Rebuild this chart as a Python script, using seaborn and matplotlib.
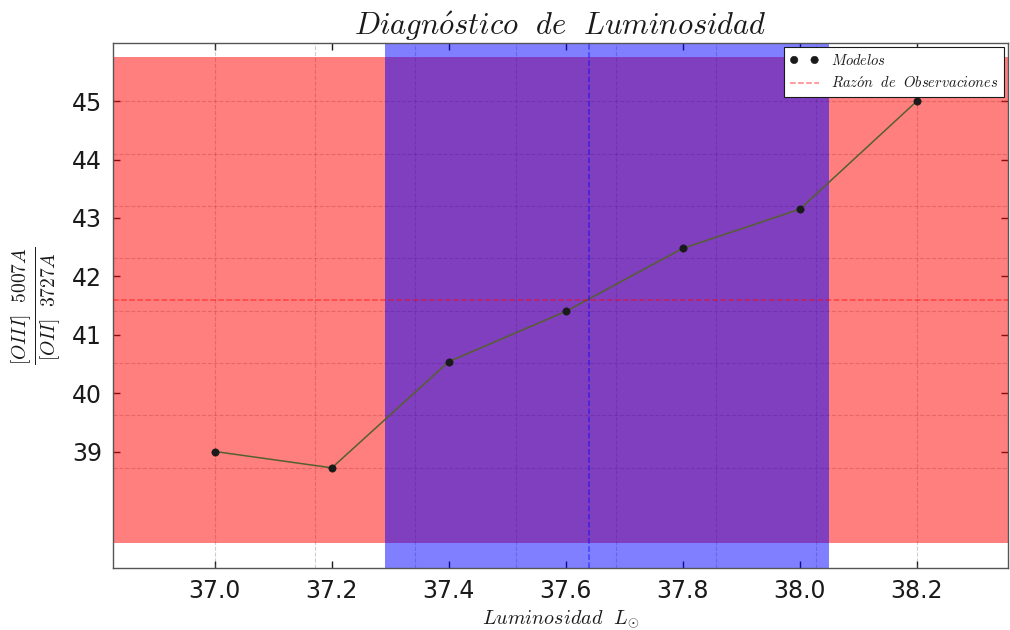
import numpy as np
import pandas as pd
import matplotlib
matplotlib.use("Agg")
import matplotlib.pyplot as plt
import matplotlib.ticker as mticker
import seaborn as sns

# Model grid: luminosity (log L_sun) vs. [OIII]/[OII] line ratio
luminosity = [37.0, 37.2, 37.4, 37.6, 37.8, 38.0, 38.2]
line_ratio = [39.0, 38.72, 40.54, 41.40, 42.48, 43.15, 45.0]

# Observed ratio and its uncertainty
obs_ratio = 41.59
obs_err = 4.16

# Luminosity inferred from the observation and its allowed range
lum_best = 37.64
lum_low = 37.29
lum_high = 38.05

x_ticks = [37.0, 37.2, 37.4, 37.6, 37.8, 38.0, 38.2]
y_ticks = [39, 40, 41, 42, 43, 44, 45]

sns.set_theme(style="ticks")
plt.rcParams["font.family"] = ["DejaVu Sans"]
plt.rcParams["mathtext.fontset"] = "cm"
plt.rcParams["text.color"] = "black"

df = pd.DataFrame({"L": luminosity, "R": line_ratio})

fig = plt.figure(figsize=(10.1, 6.3), dpi=100)
ax = fig.add_axes([0.112, 0.098, 0.886, 0.834])
ax.set_axisbelow(True)

ax.axhspan(obs_ratio - obs_err, obs_ratio + obs_err, color="red", alpha=0.5, lw=0, zorder=1)
ax.axvspan(lum_low, lum_high, color="blue", alpha=0.5, lw=0, zorder=1.1)

sns.lineplot(data=df, x="L", y="R", color="#55602e", lw=1.1, ax=ax, zorder=3, legend=False)
sns.scatterplot(data=df, x="L", y="R", color="k", edgecolor="k", s=28,
                label=r"$Modelos$", ax=ax, zorder=4)
ax.axhline(obs_ratio, color="red", ls="--", lw=1.1, alpha=0.5,
           label=r"$Raz\acute{o}n\ \ de\ \ Observaciones$", zorder=3)
ax.axvline(lum_best, color="blue", ls="--", lw=1.1, alpha=0.5, zorder=3)

ax.set_xlim(36.826, 38.356)
ax.set_ylim(37, 46)
ax.set_xticks(x_ticks)
ax.set_xticklabels([f"{v:.1f}" for v in x_ticks])
ax.set_yticks(y_ticks)
ax.set_yticklabels([str(v) for v in y_ticks])

# dashed grid spread evenly over the span of the model values
ax.xaxis.remove_overlapping_locs = False
ax.yaxis.remove_overlapping_locs = False
ax.xaxis.set_minor_locator(mticker.FixedLocator(np.linspace(min(luminosity), max(luminosity), 8)))
ax.yaxis.set_minor_locator(mticker.FixedLocator(np.linspace(min(line_ratio), max(line_ratio), 8)))
ax.grid(False, which="major")
ax.grid(True, which="minor", ls="--", lw=0.8, color="0.45", alpha=0.35)
ax.tick_params(which="minor", length=0)
ax.tick_params(which="major", direction="in", length=5, width=1, color="k",
               labelcolor="k", top=True, right=True, labelsize=17, pad=8)

for sp in ax.spines.values():
    sp.set_visible(True)
    sp.set_color("#555555")
    sp.set_linewidth(1)

ax.set_title(r"$Diagn\acute{o}stico\ \ de\ \ Luminosidad$", fontsize=22, pad=6, color="k")
ax.set_xlabel(r"$Luminosidad\ \ L_{\odot}$", fontsize=14.5, labelpad=4, color="k")
ax.set_ylabel(r"$\frac{[OIII]\ \ 5007A}{[OII]\ \ 3727A}$", fontsize=20, labelpad=6, color="k")

leg = ax.legend(loc="upper right", fontsize=10.5, scatterpoints=2, scatteryoffsets=[0.5],
                frameon=True, fancybox=False, framealpha=1, edgecolor="k",
                borderaxespad=0.3, handlelength=2)
leg.get_frame().set_linewidth(0.8)
for t in leg.get_texts():
    t.set_color("k")

fig.savefig("out.png", dpi=100, facecolor="white")
